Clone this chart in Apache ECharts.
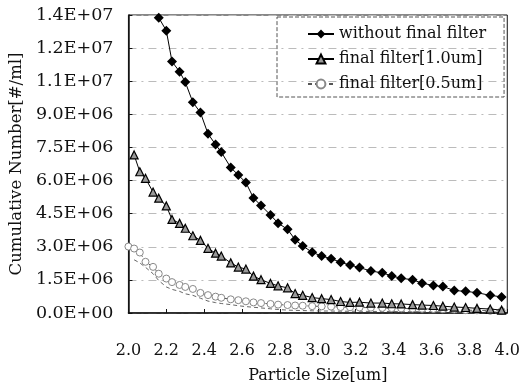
<!DOCTYPE html>
<html>
<head>
<meta charset="utf-8">
<script src="https://cdn.jsdelivr.net/npm/echarts@6/dist/echarts.min.js"></script>
<style>
  html, body { margin: 0; padding: 0; background: #fff; }
  #chart { width: 523px; height: 389px; }
</style>
</head>
<body>
<div id="chart"></div>
<script>
// particle size bins [um]
const sizes = [2.00, 2.03, 2.06, 2.09, 2.13, 2.16, 2.20, 2.23, 2.27, 2.30, 2.34, 2.38, 2.42, 2.46, 2.49,
    2.54, 2.58, 2.62, 2.66, 2.70, 2.75, 2.79, 2.84, 2.88, 2.92, 2.97, 3.02, 3.07, 3.12, 3.17, 3.22,
    3.28, 3.34, 3.39, 3.44, 3.50, 3.55, 3.61, 3.66, 3.72, 3.78, 3.84, 3.91, 3.97]

// cumulative number, x1e6 [#/ml]
const noFilter = [null, null, null, null, null, 13.38, 12.79, 11.39, 10.93, 10.46, 9.55, 9.08, 8.12, 7.63, 7.29,
    6.59, 6.25, 5.91, 5.21, 4.87, 4.44, 4.07, 3.79, 3.32, 3.04, 2.75, 2.58, 2.46, 2.30, 2.17, 2.06,
    1.90, 1.82, 1.68, 1.57, 1.51, 1.35, 1.25, 1.20, 1.02, 0.98, 0.92, 0.80, 0.73]
const filter10 = [null, 7.16, 6.40, 6.10, 5.48, 5.20, 4.85, 4.24, 4.06, 3.84, 3.50, 3.29, 2.93, 2.71, 2.58,
    2.27, 2.08, 1.99, 1.67, 1.51, 1.34, 1.23, 1.14, 0.88, 0.80, 0.70, 0.65, 0.61, 0.52, 0.48, 0.49,
    0.45, 0.45, 0.42, 0.41, 0.38, 0.36, 0.34, 0.31, 0.27, 0.25, 0.21, 0.18, 0.13]
const filter05 = [3.01, 2.92, 2.74, 2.32, 2.09, 1.78, 1.56, 1.40, 1.27, 1.18, 1.09, 0.91, 0.81, 0.74, 0.69,
    0.62, 0.58, 0.53, 0.48, 0.45, 0.41, 0.38, 0.36, 0.34, 0.33, 0.31, 0.30, 0.29, 0.27, 0.26, 0.25,
    0.24, 0.23, 0.22, 0.21, 0.20, 0.19, 0.18, 0.17, 0.16, 0.13, 0.12, 0.10, 0.09]
// second dashed trace under the 0.5um curve (not in legend)
const filter05b = [null, 2.41, 2.27, 2.07, 1.78, 1.47, 1.18, 1.07, 0.98, 0.87, 0.80, 0.67, 0.54, 0.47, 0.43,
    0.38, 0.33, 0.29, 0.26, 0.23, 0.19, 0.16, 0.13, 0.12, 0.11, 0.10, 0.09, 0.09, 0.08, 0.08, 0.08,
    0.07, 0.07, 0.07, 0.06, 0.06, 0.06, 0.06, 0.05, 0.05, 0.05, 0.05, 0.05, 0.05]

const seriesNames = ['without final filter', 'final filter[1.0um]', 'final filter[0.5um]']
const xTicks = { min: 2.0, max: 4.0, step: 0.2 }
const yTicks = { min: 0, max: 13.5e6, step: 1.5e6 }

const FONT = 'DejaVu Serif'

function pairs(vals) {
    return sizes.map((s, i) => [s, vals[i] == null ? null : vals[i] * 1e6])
}

function sci(v) {
    const [m, e] = v.toExponential(1).split('e')
    const n = parseInt(e, 10)
    return m + 'E' + (n < 0 ? '-' : '+') + String(Math.abs(n)).padStart(2, '0')
}

const chart = echarts.init(document.getElementById('chart'), undefined, { renderer: 'canvas' })

chart.setOption({
    backgroundColor: '#fff',
    animation: false,
    textStyle: { fontFamily: FONT },
    grid: {
        left: 123, right: 11, top: 15, bottom: 71,
        show: true, borderColor: '#111', borderWidth: 1, backgroundColor: 'transparent',
    },
    legend: {
        orient: 'vertical',
        left: 277, top: 17,
        padding: [9, 18, 5, 30],
        itemGap: 9,
        itemWidth: 26, itemHeight: 11,
        borderColor: '#555', borderWidth: 1, borderType: 'dashed',
        textStyle: { fontFamily: FONT, fontSize: 16, color: '#111' },
        data: seriesNames,
    },
    xAxis: {
        type: 'value',
        min: xTicks.min, max: xTicks.max, interval: xTicks.step,
        name: 'Particle Size[um]',
        nameLocation: 'middle', nameGap: 55,
        nameTextStyle: { fontFamily: FONT, fontSize: 16, color: '#111' },
        axisLine: { show: true, onZero: false, lineStyle: { color: '#111', width: 1.5 } },
        axisTick: { show: true, inside: true, length: 4, lineStyle: { color: '#111' } },
        axisLabel: {
            fontFamily: FONT, fontSize: 16, color: '#111', margin: 30,
            formatter: v => v.toFixed(1),
        },
        splitLine: { show: false },
    },
    yAxis: {
        type: 'value',
        min: yTicks.min, max: yTicks.max, interval: yTicks.step,
        name: 'Cumulative Number[#/ml]',
        nameLocation: 'middle', nameGap: 93,
        nameTextStyle: { fontFamily: FONT, fontSize: 16.5, color: '#111' },
        axisLine: { show: true, lineStyle: { color: '#111', width: 1.5 } },
        axisTick: { show: true, inside: true, length: 4, lineStyle: { color: '#111' } },
        axisLabel: { fontFamily: FONT, fontSize: 17.5, color: '#111', margin: 15, formatter: sci },
        splitLine: { show: true, lineStyle: { color: '#bbb', width: 1, type: [8, 5, 2, 5] } },
    },
    series: [
        {
            name: seriesNames[0], type: 'line', data: pairs(noFilter),
            symbol: 'diamond', symbolSize: 10,
            itemStyle: { color: '#000' },
            lineStyle: { color: '#000', width: 1 },
            z: 5,
        },
        {
            name: seriesNames[1], type: 'line', data: pairs(filter10),
            symbol: 'triangle', symbolSize: 8,
            itemStyle: { color: '#999', borderColor: '#000', borderWidth: 1.2 },
            lineStyle: { color: '#000', width: 1 },
            z: 4,
        },
        {
            name: seriesNames[2], type: 'line', data: pairs(filter05),
            symbol: 'circle', symbolSize: 7,
            itemStyle: { color: '#fff', borderColor: '#888', borderWidth: 1 },
            lineStyle: { color: '#555', width: 1, type: [4, 3] },
            z: 3,
        },
        {
            name: 'trace', type: 'line', data: pairs(filter05b),
            symbol: 'none',
            lineStyle: { color: '#666', width: 1, type: [4, 3] },
            z: 2,
        },
    ],
})
</script>
</body>
</html>
